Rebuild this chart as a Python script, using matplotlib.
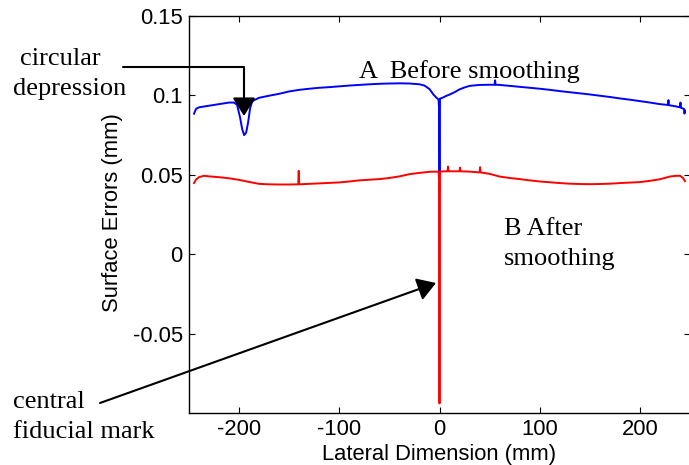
#!/usr/bin/env python3
"""
plot.py — surface error profiles before / after smoothing (lateral scan).
Saves out.png (689x465 px).
"""
import matplotlib
matplotlib.use("Agg")
import matplotlib.pyplot as plt

# ---------------------------------------------------------------------------
# Data
# ---------------------------------------------------------------------------
# Profile A: before smoothing (mm vs mm)
before_x = [-245, -243, -240, -230, -220, -210, -205, -202, -199, -197, -195, -193,
            -191, -189, -187, -185, -180, -170, -160, -150, -140, -130, -120, -110,
            -100, -90, -80, -70, -60, -50, -40, -30, -20, -15, -10, -6, -3, -1,
            -0.5, 0, 0.5, 3, 6, 10, 15, 20, 25, 30, 40, 50, 55, 55.5, 56, 60, 70,
            80, 90, 100, 110, 120, 130, 140, 150, 160, 170, 180, 190, 200, 210,
            220, 228, 228.5, 229, 235, 240, 240.5, 241, 244, 244.5, 245]
before_y = [0.0885, 0.0915, 0.0925, 0.0935, 0.0945, 0.0955, 0.0955, 0.094, 0.086,
            0.079, 0.075, 0.0765, 0.083, 0.092, 0.096, 0.097, 0.0985, 0.0998, 0.101,
            0.1025, 0.1035, 0.1042, 0.1048, 0.1052, 0.1057, 0.1062, 0.1066, 0.107,
            0.1073, 0.1075, 0.1076, 0.1075, 0.107, 0.1062, 0.104, 0.1005, 0.0985,
            0.0975, 0.093, 0.05, 0.098, 0.0985, 0.0995, 0.1005, 0.102, 0.1038, 0.105,
            0.106, 0.1066, 0.1067, 0.1067, 0.1095, 0.1067, 0.1066, 0.106, 0.1054,
            0.1048, 0.1042, 0.1035, 0.1027, 0.102, 0.1013, 0.1006, 0.0998, 0.099,
            0.0981, 0.0973, 0.0964, 0.0955, 0.0945, 0.094, 0.097, 0.0938, 0.0932,
            0.0925, 0.0955, 0.0922, 0.0915, 0.0885, 0.0905]

# Profile B: after smoothing
after_x = [-245, -243, -240, -235, -230, -220, -210, -200, -190, -180, -170, -160,
           -150, -141, -140.5, -140, -130, -120, -110, -100, -90, -80, -70, -60,
           -50, -40, -30, -20, -10, -1, -0.5, 0, 0.5, 1, 8, 8.5, 9, 20, 20.5, 21,
           30, 40, 40.5, 41, 50, 60, 70, 80, 90, 100, 110, 120, 130, 140, 150, 160,
           170, 180, 190, 200, 210, 220, 230, 235, 240, 243, 245]
after_y = [0.0448, 0.047, 0.0485, 0.0494, 0.049, 0.0485, 0.0478, 0.0468, 0.0455,
           0.0443, 0.044, 0.0439, 0.0439, 0.044, 0.0525, 0.044, 0.0443, 0.0446,
           0.0449, 0.0452, 0.0458, 0.0465, 0.0469, 0.0473, 0.048, 0.049, 0.0504,
           0.0512, 0.0519, 0.052, 0.048, -0.094, 0.052, 0.0521, 0.0522, 0.0552,
           0.0522, 0.0522, 0.0545, 0.0522, 0.052, 0.0515, 0.0548, 0.0515, 0.0506,
           0.0489, 0.048, 0.0473, 0.0465, 0.0458, 0.0453, 0.0448, 0.0444, 0.0442,
           0.0441, 0.0442, 0.0444, 0.0448, 0.0451, 0.0454, 0.0462, 0.0472, 0.0489,
           0.0493, 0.0494, 0.048, 0.046]

x_ticks = [-200, -100, 0, 100, 200]
y_ticks = [-0.05, 0, 0.05, 0.1, 0.15]
y_tick_labels = ["-0.05", "0", "0.05", "0.1", "0.15"]

# ---------------------------------------------------------------------------
# Plot
# ---------------------------------------------------------------------------
W, H = 689, 465
DPI = 100
SANS = "Liberation Sans"
SERIF = "Liberation Serif"

plt.rcParams["axes.unicode_minus"] = False


def fpx(x, y_top):
    """Figure pixel coords measured from the top-left corner."""
    return (x, H - y_top)


def ffrac(x, y_top):
    """Figure fraction coords from top-left pixel position."""
    return (x / W, (H - y_top) / H)


fig = plt.figure(figsize=(W / DPI, H / DPI), dpi=DPI)
ax = fig.add_axes([189 / W, (H - 413) / H, 501 / W, 397 / H])

ax.plot(before_x, before_y, color="#0000ff", lw=1.4)
ax.plot(after_x, after_y, color="#ff0000", lw=1.4)

ax.set_xlim(-250, 250)
ax.set_ylim(-0.1, 0.15)
ax.set_xticks(x_ticks)
ax.set_yticks(y_ticks)
ax.set_yticklabels(y_tick_labels)
ax.tick_params(direction="in", length=4, width=0.8, top=True, right=True,
               labelsize=15.8, pad=4.5, colors="black")
for lab in ax.get_xticklabels() + ax.get_yticklabels():
    lab.set_fontfamily(SANS)
for sp in ax.spines.values():
    sp.set_linewidth(1.0)

ax.set_xlabel("Lateral Dimension (mm)", fontsize=15.8, fontfamily=SANS, labelpad=3)
ax.set_ylabel("Surface Errors (mm)", fontsize=15.8, fontfamily=SANS)
ax.yaxis.set_label_coords(-0.132, 0.504)

txt = dict(fontsize=19, fontfamily=SERIF, va="baseline", ha="left")

# curve labels
fig.text(*ffrac(359, 78), "A  Before smoothing", **txt)
fig.text(*ffrac(504, 235), "B After", **txt)
fig.text(*ffrac(504, 265), "smoothing", **txt)

# circular depression callout (elbow arrow)
fig.text(*ffrac(20, 65), "circular", **txt)
fig.text(*ffrac(13, 95), "depression", **txt)
ax.annotate("", xy=fpx(244, 116), xytext=fpx(123, 67),
            xycoords="figure pixels", textcoords="figure pixels",
            arrowprops=dict(arrowstyle="-|>,head_length=0.8,head_width=0.5",
                            mutation_scale=14, color="black", lw=1.5,
                            shrinkA=0, shrinkB=0,
                            connectionstyle="angle,angleA=0,angleB=90,rad=0"),
            annotation_clip=False)

# central fiducial mark callout
fig.text(*ffrac(13, 408), "central", **txt)
fig.text(*ffrac(13, 438), "fiducial mark", **txt)
ax.annotate("", xy=fpx(436, 283), xytext=fpx(100, 403),
            xycoords="figure pixels", textcoords="figure pixels",
            arrowprops=dict(arrowstyle="-|>,head_length=0.8,head_width=0.5",
                            mutation_scale=14, color="black", lw=1.5,
                            shrinkA=0, shrinkB=0),
            annotation_clip=False)

fig.savefig("out.png", dpi=DPI)
plt.close(fig)
